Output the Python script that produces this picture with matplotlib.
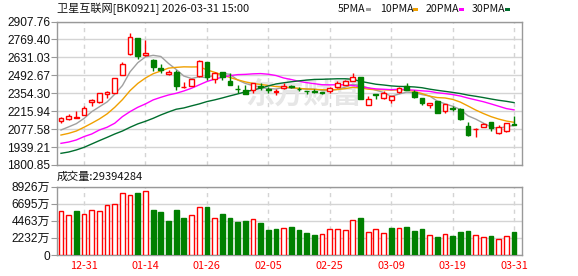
import matplotlib
matplotlib.use('Agg')
import matplotlib.pyplot as plt
from matplotlib.patches import Rectangle
import numpy as np

# ---------------- data ----------------
dates = ["12-31", "01-14", "01-26", "02-05", "02-25", "03-09", "03-19", "03-31"]
date_idx = [3, 11, 19, 27, 35, 43, 51, 59]

opens = [2138, 2159, 2166, 2190, 2290, 2285, 2349, 2357, 2498, 2658,
         2779, 2648, 2612, 2547, 2501, 2522, 2401, 2414, 2491, 2594,
         2465, 2517, 2450, 2390, 2380, 2380, 2408, 2385, 2364, 2396,
         2408, 2390, 2373, 2370, 2364, 2372, 2406, 2419, 2450, 2478,
         2262, 2349, 2321, 2303, 2367, 2411, 2367, 2321, 2264, 2293,
         2221, 2238, 2231, 2102, 2079, 2097, 2130, 2045, 2066, 2117]
highs = [2174, 2192, 2215, 2259, 2309, 2354, 2375, 2473, 2594, 2818,
         2781, 2766, 2620, 2581, 2535, 2535, 2439, 2465, 2612, 2594,
         2522, 2522, 2509, 2419, 2419, 2432, 2437, 2406, 2385, 2437,
         2419, 2406, 2375, 2388, 2367, 2406, 2445, 2457, 2514, 2478,
         2334, 2350, 2372, 2334, 2406, 2437, 2380, 2321, 2280, 2298,
         2272, 2257, 2239, 2136, 2089, 2128, 2130, 2110, 2123, 2179]
lows = [2128, 2148, 2164, 2184, 2259, 2277, 2316, 2354, 2496, 2653,
        2617, 2643, 2527, 2509, 2496, 2380, 2398, 2411, 2483, 2457,
        2432, 2457, 2419, 2360, 2347, 2354, 2380, 2360, 2341, 2390,
        2393, 2375, 2349, 2360, 2349, 2354, 2393, 2419, 2445, 2311,
        2262, 2311, 2311, 2277, 2360, 2380, 2321, 2264, 2244, 2205,
        2205, 2218, 2148, 2027, 2020, 2097, 2066, 2040, 2058, 2110]
closes = [2164, 2182, 2169, 2244, 2303, 2354, 2365, 2470, 2578, 2787,
          2645, 2663, 2560, 2535, 2519, 2414, 2406, 2465, 2602, 2483,
          2514, 2483, 2419, 2385, 2349, 2432, 2403, 2380, 2370, 2411,
          2403, 2385, 2368, 2365, 2360, 2398, 2432, 2452, 2478, 2311,
          2308, 2342, 2360, 2334, 2398, 2380, 2329, 2277, 2280, 2205,
          2272, 2234, 2154, 2035, 2082, 2115, 2084, 2092, 2123, 2113]

ma5 = [2071, 2095, 2120, 2160, 2212, 2250, 2287, 2347, 2414, 2520,
       2590, 2635, 2647, 2638, 2584, 2538, 2487, 2468, 2481, 2474,
       2494, 2509, 2500, 2457, 2430, 2414, 2398, 2390, 2387, 2399,
       2393, 2390, 2387, 2386, 2376, 2375, 2385, 2401, 2424, 2414,
       2396, 2378, 2360, 2331, 2348, 2363, 2360, 2344, 2333, 2294,
       2273, 2254, 2229, 2180, 2155, 2124, 2094, 2082, 2099, 2105]
ma10 = [2032, 2045, 2063, 2092, 2123, 2156, 2195, 2246, 2305, 2375,
        2430, 2472, 2505, 2526, 2548, 2554, 2558, 2557, 2558, 2535,
        2516, 2496, 2476, 2458, 2442, 2430, 2422, 2414, 2406, 2402,
        2398, 2392, 2387, 2384, 2382, 2380, 2383, 2390, 2400, 2395,
        2386, 2381, 2381, 2378, 2381, 2380, 2369, 2352, 2332, 2321,
        2318, 2307, 2286, 2256, 2225, 2198, 2174, 2155, 2140, 2130]
ma20 = [1968, 1978, 1994, 2020, 2040, 2071, 2092, 2123, 2174, 2213,
        2246, 2272, 2303, 2323, 2341, 2354, 2372, 2393, 2419, 2445,
        2463, 2478, 2490, 2498, 2500, 2504, 2506, 2501, 2491, 2472,
        2460, 2446, 2436, 2428, 2420, 2419, 2420, 2420, 2414, 2405,
        2395, 2388, 2385, 2382, 2385, 2382, 2378, 2373, 2369, 2358,
        2352, 2344, 2333, 2317, 2303, 2289, 2272, 2254, 2236, 2226]
ma30 = [1891, 1901, 1917, 1937, 1963, 1989, 2014, 2040, 2063, 2092,
        2118, 2138, 2161, 2187, 2210, 2231, 2241, 2257, 2272, 2290,
        2303, 2318, 2334, 2349, 2365, 2380, 2393, 2411, 2426, 2435,
        2443, 2450, 2456, 2461, 2462, 2464, 2466, 2466, 2462, 2446,
        2435, 2424, 2418, 2411, 2407, 2406, 2403, 2397, 2386, 2377,
        2369, 2361, 2352, 2340, 2331, 2321, 2310, 2300, 2292, 2282]

volume = [5747, 5225, 5747, 5355, 5878, 5747, 6531, 6662, 8055, 7837,
          8098, 8360, 5878, 5617, 4441, 5878, 4833, 5225, 6226, 6270,
          4789, 5399, 4833, 4354, 4441, 4659, 4223, 3266, 3396, 3527,
          3657, 3266, 2917, 2612, 2743, 3396, 3396, 3266, 4572, 4833,
          3004, 3396, 2874, 3527, 3527, 3657, 3178, 3396, 2612, 2351,
          2743, 2482, 3004, 3135, 2612, 2351, 2482, 2090, 2482, 2939]
vol_up = [1, 1, 0, 1, 1, 1, 1, 1, 1, 1, 0, 1, 0, 0, 0, 0, 0, 1, 1, 0,
          1, 0, 0, 0, 0, 1, 0, 0, 0, 1, 0, 0, 0, 0, 1, 1, 1, 1, 1, 0,
          1, 1, 1, 0, 1, 0, 0, 0, 1, 0, 1, 0, 0, 0, 1, 1, 0, 1, 1, 0]

price_ticks = [1800.85, 1939.21, 2077.58, 2215.94, 2354.30, 2492.67, 2631.03, 2769.40, 2907.76]
price_labels = ["1800.85", "1939.21", "2077.58", "2215.94", "2354.30", "2492.67", "2631.03", "2769.40", "2907.76"]
vol_ticks = [0, 2232, 4463, 6695, 8926]
vol_labels = ["0", "2232万", "4463万", "6695万", "8926万"]

title = "卫星互联网[BK0921] 2026-03-31 15:00"
vol_title = "成交量:29394284"
ma_names = ["5PMA", "10PMA", "20PMA", "30PMA"]
watermark = "东方财富"

# ---------------- style ----------------
RED = '#ff0000'
GREEN = '#008000'
MA_COLORS = ['#a0a0a0', '#f0a000', '#ff00ff', '#006e2e']
GRID = '#d4d4d4'
SPINE = '#999999'
CJK = ['Noto Sans CJK SC', 'DejaVu Sans']
NUMF = ['Liberation Sans', 'Noto Sans CJK SC']

W, H = 578, 276
fig = plt.figure(figsize=(W / 100, H / 100), dpi=100)

def fx(px):
    return px / W

def fy(py):
    return 1 - py / H

L, R = 57, 522
ax = fig.add_axes([fx(L), fy(165), fx(R) - fx(L), fy(21.5) - fy(165)])
axv = fig.add_axes([fx(L), fy(255), fx(R) - fx(L), fy(186.5) - fy(255)])

n = len(closes)
idx = np.arange(n)
o = np.array(opens, float)
c = np.array(closes, float)
up = c >= o
cols = [RED if u else GREEN for u in up]

for a in (ax, axv):
    a.set_xlim(-0.52, 60.03)
    for s in a.spines.values():
        s.set_color(SPINE)
        s.set_linewidth(1)
    a.set_xticks(date_idx)
    a.grid(axis='x', color=GRID, linestyle=(0, (3, 3)), linewidth=1)
    a.grid(axis='y', color=GRID, linestyle='-', linewidth=1)
    a.set_axisbelow(True)
    a.tick_params(axis='y', direction='out', length=4, color=SPINE, pad=1,
                  labelsize=8.6)

# price axes
ax.set_ylim(1800.85, 2907.76)
ax.set_yticks(price_ticks)
ax.set_yticklabels(price_labels, family=NUMF, color='#111111')
ax.tick_params(axis='x', length=0, labelbottom=False)

# watermark
ax.text(0.53, 0.5, watermark, transform=ax.transAxes, family=CJK, fontsize=21,
        fontweight='bold', color='#e6e6e6', ha='center', va='center', zorder=1)

for ma, col in zip([ma5, ma10, ma20, ma30], MA_COLORS):
    ax.plot(idx, ma, color=col, linewidth=1, zorder=2)

ax.vlines(idx, lows, highs, colors=cols, linewidth=1, zorder=3)
body_bottom = np.minimum(o, c)
body_h = np.maximum(np.abs(c - o), 1.2)
ax.bar(idx, body_h, bottom=body_bottom, width=0.62,
       color=['white' if u else GREEN for u in up], edgecolor=cols,
       linewidth=1, zorder=4)

# volume axes
axv.set_ylim(0, 8926)
axv.set_yticks(vol_ticks)
axv.set_yticklabels(vol_labels, family=NUMF, color='#111111')
vcols = [RED if u else GREEN for u in vol_up]
axv.bar(idx, volume, width=0.62, color=['white' if u else GREEN for u in vol_up],
        edgecolor=vcols, linewidth=1, zorder=3)
axv.set_xticklabels(dates, family=CJK, color=RED, fontsize=7.8)
axv.tick_params(axis='x', length=0, pad=4)

# texts
fig.text(fx(57), fy(9), title, family=CJK, fontsize=8, ha='left', va='center', color='#111111')
fig.text(fx(57), fy(177), vol_title, family=CJK, fontsize=8, ha='left', va='center', color='#111111')

leg_x = [338, 380, 426, 472]
sq_x = [366, 413, 459, 505]
for name, tx, sx, col in zip(ma_names, leg_x, sq_x, MA_COLORS):
    fig.text(fx(tx), fy(9), name, family=CJK, fontsize=7.6, ha='left', va='center', color='#111111')
    fig.patches.append(Rectangle((fx(sx), fy(11)), fx(5), 3.5 / H, transform=fig.transFigure,
                                 facecolor=col, edgecolor='none'))

fig.savefig('out.png', dpi=100)
